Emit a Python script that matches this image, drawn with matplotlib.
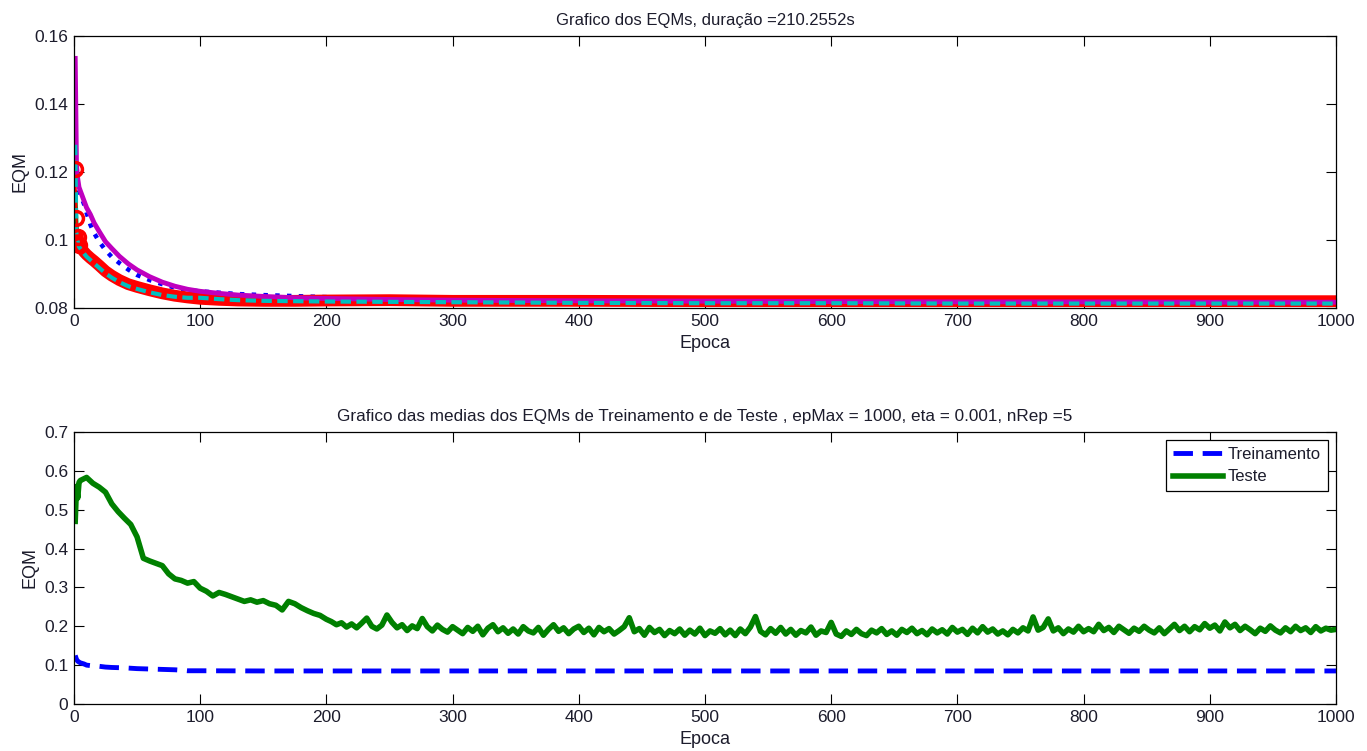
import numpy as np
import matplotlib
matplotlib.use('Agg')
import matplotlib.pyplot as plt
from matplotlib.ticker import FuncFormatter

# ---- dados ----
# EQMs de cada repeticao (grafico de cima), amostrados em algumas epocas
ep_rep = [1, 2, 3, 4, 6, 8, 10, 13, 16, 20, 25, 30, 36, 43, 50, 60, 70, 80, 90, 100,
          115, 130, 150, 175, 200, 250, 300, 400, 500, 600, 700, 800, 900, 1000]

eqm_rep1 = [0.1180, 0.1167, 0.1155, 0.1145, 0.1125, 0.1105, 0.1080, 0.1045, 0.1020, 0.0995,
            0.0970, 0.0950, 0.0932, 0.0913, 0.0897, 0.0882, 0.0870, 0.0860, 0.0853, 0.0849,
            0.0845, 0.0841, 0.0838, 0.0835, 0.0832, 0.0829, 0.0827, 0.0825, 0.0824, 0.0823,
            0.0823, 0.0822, 0.0822, 0.0822]
eqm_rep2 = [0.1140, 0.1040, 0.1000, 0.0982, 0.0972, 0.0962, 0.0954, 0.0944, 0.0935, 0.0922,
            0.0905, 0.0892, 0.0879, 0.0867, 0.0859, 0.0849, 0.0841, 0.0834, 0.0829, 0.0826,
            0.0823, 0.0821, 0.0820, 0.0820, 0.0820, 0.0821, 0.0820, 0.0820, 0.0819, 0.0819,
            0.0819, 0.0819, 0.0819, 0.0819]
eqm_rep3 = [0.1210, 0.1065, 0.1010, 0.0985, 0.0975, 0.0965, 0.0957, 0.0947, 0.0938, 0.0925,
            0.0908, 0.0895, 0.0882, 0.0870, 0.0862, 0.0852, 0.0843, 0.0836, 0.0831, 0.0827,
            0.0824, 0.0822, 0.0821, 0.0821, 0.0822, 0.0823, 0.0821, 0.0821, 0.0820, 0.0820,
            0.0820, 0.0820, 0.0820, 0.0820]
eqm_rep4 = [0.1534, 0.1220, 0.1180, 0.1155, 0.1135, 0.1115, 0.1095, 0.1075, 0.1050, 0.1025,
            0.0995, 0.0975, 0.0952, 0.0930, 0.0912, 0.0892, 0.0876, 0.0864, 0.0855, 0.0849,
            0.0843, 0.0838, 0.0834, 0.0830, 0.0828, 0.0825, 0.0823, 0.0821, 0.0820, 0.0819,
            0.0818, 0.0818, 0.0817, 0.0817]
eqm_rep5 = [0.1280, 0.1005, 0.0995, 0.0980, 0.0970, 0.0960, 0.0951, 0.0941, 0.0931, 0.0918,
            0.0902, 0.0889, 0.0876, 0.0864, 0.0856, 0.0846, 0.0838, 0.0833, 0.0830, 0.0830,
            0.0826, 0.0823, 0.0821, 0.0820, 0.0819, 0.0818, 0.0817, 0.0815, 0.0814, 0.0814,
            0.0813, 0.0813, 0.0813, 0.0813]

# medias (grafico de baixo)
ep_trein = [1, 2, 3, 5, 8, 10, 15, 20, 25, 30, 40, 50, 60, 70, 80, 85, 90, 100, 150,
            200, 300, 400, 500, 600, 700, 800, 900, 1000]
eqm_trein = [0.125, 0.115, 0.110, 0.106, 0.103, 0.100, 0.098, 0.097, 0.095, 0.094, 0.093,
             0.091, 0.090, 0.089, 0.088, 0.087, 0.0855, 0.0855, 0.085, 0.085, 0.085, 0.085,
             0.085, 0.085, 0.085, 0.085, 0.085, 0.085]

ep_teste = np.r_[1:5, 5:201:5, 204:1001:4]
eqm_teste = [
    0.470, 0.560, 0.530, 0.570,
    # 5 .. 200 (de 5 em 5)
    0.575, 0.583, 0.568, 0.558, 0.545, 0.515, 0.495, 0.478, 0.462, 0.430,
    0.375, 0.368, 0.362, 0.356, 0.335, 0.322, 0.318, 0.311, 0.315, 0.298,
    0.290, 0.278, 0.287, 0.282, 0.276, 0.270, 0.264, 0.268, 0.262, 0.266,
    0.258, 0.254, 0.242, 0.264, 0.258, 0.248, 0.240, 0.233, 0.228, 0.218,
    # 204 .. 1000 (de 4 em 4)
    0.212, 0.204, 0.209, 0.198, 0.206, 0.196, 0.208, 0.221, 0.200, 0.193,
    0.203, 0.229, 0.210, 0.196, 0.204, 0.189, 0.201, 0.194, 0.220, 0.199,
    0.188, 0.203, 0.192, 0.185, 0.199, 0.190, 0.181, 0.197, 0.187, 0.200,
    0.178, 0.195, 0.204, 0.186, 0.196, 0.182, 0.193, 0.180, 0.199, 0.188,
    0.183, 0.197, 0.177, 0.192, 0.204, 0.187, 0.196, 0.181, 0.193, 0.200,
    0.184, 0.195, 0.178, 0.197, 0.186, 0.194, 0.180, 0.189, 0.199, 0.222,
    0.186, 0.194, 0.177, 0.197, 0.184, 0.192, 0.176, 0.189, 0.181, 0.193,
    0.177, 0.190, 0.180, 0.195, 0.176, 0.188, 0.182, 0.194, 0.178, 0.190,
    0.176, 0.193, 0.181, 0.198, 0.225, 0.187, 0.178, 0.194, 0.182, 0.197,
    0.180, 0.192, 0.177, 0.189, 0.183, 0.198, 0.177, 0.188, 0.184, 0.210,
    0.180, 0.174, 0.188, 0.179, 0.192, 0.181, 0.176, 0.190, 0.183, 0.194,
    0.179, 0.188, 0.177, 0.192, 0.184, 0.195, 0.181, 0.189, 0.178, 0.193,
    0.183, 0.191, 0.180, 0.197, 0.185, 0.192, 0.179, 0.195, 0.183, 0.199,
    0.185, 0.193, 0.180, 0.188, 0.178, 0.192, 0.183, 0.196, 0.188, 0.224,
    0.190, 0.197, 0.219, 0.188, 0.196, 0.181, 0.193, 0.185, 0.200, 0.186,
    0.194, 0.186, 0.205, 0.189, 0.197, 0.184, 0.200, 0.191, 0.182, 0.195,
    0.187, 0.200, 0.190, 0.183, 0.196, 0.181, 0.193, 0.205, 0.189, 0.200,
    0.186, 0.199, 0.191, 0.207, 0.195, 0.203, 0.188, 0.211, 0.196, 0.205,
    0.189, 0.200, 0.191, 0.181, 0.195, 0.187, 0.201, 0.190, 0.183, 0.196,
    0.186, 0.200, 0.189, 0.196, 0.184, 0.199, 0.188, 0.195, 0.190, 0.192,
]

duracao = 210.2552
epMax, eta, nRep = 1000, 0.001, 5

# ---- estilo tipo matlab ----
plt.rcParams['font.family'] = ['Liberation Sans', 'DejaVu Sans']
txt = '#1c1c2c'

azul = (0, 0, 1)
verde = (0, 0.5, 0)
vermelho = (1, 0, 0)
ciano = (0, 0.75, 0.75)
magenta = (0.75, 0, 0.75)

fig = plt.figure(figsize=(13.67, 7.51), dpi=100)
ax1 = fig.add_axes([0.0541, 0.5899, 0.9232, 0.3622])
ax2 = fig.add_axes([0.0541, 0.0626, 0.9232, 0.3622])

fmt = FuncFormatter(lambda v, p: '%g' % round(v, 4))


def estilo(ax):
    ax.tick_params(direction='in', length=7, width=0.8, top=True, right=True,
                   labelsize=12.5, colors='black', labelcolor=txt, pad=4)
    for s in ax.spines.values():
        s.set_linewidth(0.9)
        s.set_color('black')
    ax.yaxis.set_major_formatter(fmt)
    ax.set_xlim(0, 1000)
    ax.set_xticks(range(0, 1001, 100))
    ax.set_xlabel('Epoca', color=txt, fontsize=13, labelpad=5)
    ax.set_ylabel('EQM', color=txt, fontsize=13, labelpad=4)


# grafico de cima: cada repeticao
ax1.plot(ep_rep, eqm_rep1, ':', color=azul, lw=3.2)
ax1.plot(ep_rep, eqm_rep2, '-', color=verde, lw=3)
ax1.plot(ep_rep, eqm_rep3, '-', color=vermelho, lw=1.5)
ax1.plot(ep_rep[2:], eqm_rep3[2:], '-', color=vermelho, lw=8.5, solid_capstyle='round')
ax1.plot(ep_rep, eqm_rep4, '-', color=magenta, lw=3.5)
ax1.plot(ep_rep, eqm_rep5, '--', color=ciano, lw=3, dashes=(2.5, 1.3))
ax1.plot(ep_rep[:4], eqm_rep3[:4], 'o', mfc='none', mec=vermelho, ms=10, mew=2.5)
ax1.set_ylim(0.08, 0.16)
ax1.set_yticks([0.08, 0.10, 0.12, 0.14, 0.16])
estilo(ax1)
ax1.set_title('Grafico dos EQMs, duração =%.4fs' % duracao, fontsize=12, color=txt, pad=8)

# grafico de baixo: medias
ax2.plot(ep_trein, eqm_trein, '--', color=azul, lw=3.5, dashes=(4, 2), label='Treinamento')
ax2.plot(ep_teste, eqm_teste, '-', color=verde, lw=4, label='Teste')
ax2.set_ylim(0, 0.7)
ax2.set_yticks(np.arange(0, 0.71, 0.1))
estilo(ax2)
ax2.set_title('Grafico das medias dos EQMs de Treinamento e de Teste , epMax = %d, eta = %g, nRep =%d'
              % (epMax, eta, nRep), fontsize=12.3, color=txt, pad=8)
leg = ax2.legend(loc='upper right', fancybox=False, framealpha=1, edgecolor='black',
                 handlelength=3.0, handletextpad=0.3, borderaxespad=0.5, fontsize=12,
                 labelspacing=0.45, borderpad=0.4)
leg.get_frame().set_linewidth(0.9)
for t in leg.get_texts():
    t.set_color(txt)

fig.savefig('out.png', dpi=100)
